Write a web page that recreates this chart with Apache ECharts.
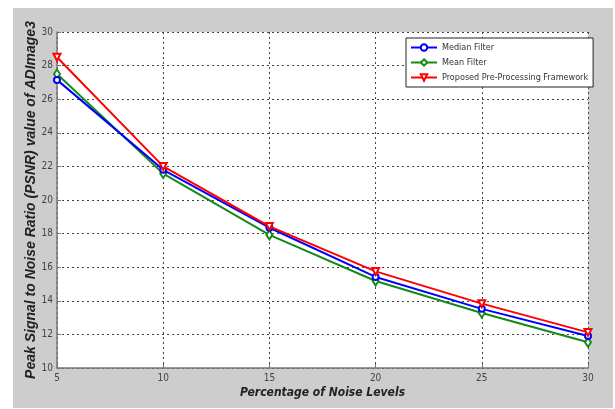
<!DOCTYPE html>
<html>
<head>
<meta charset="utf-8">
<script src="https://cdn.jsdelivr.net/npm/echarts@6/dist/echarts.min.js"></script>
<style>
html,body{margin:0;padding:0;background:#fff;}
#c{width:615px;height:409px;}
</style>
</head>
<body>
<div id="c"></div>
<script>
var noiseLevels = [5, 10, 15, 20, 25, 30];
var medianFilter = [27.15, 21.8, 18.35, 15.42, 13.52, 11.9];
var meanFilter = [27.5, 21.57, 17.92, 15.18, 13.27, 11.53];
var proposed = [28.5, 22.0, 18.43, 15.75, 13.83, 12.12];
var seriesNames = ['Median Filter', 'Mean Filter', 'Proposed Pre-Processing Framework'];
var xTitle = 'Percentage of Noise Levels';
var yTitle = 'Peak Signal to Noise Ratio (PSNR) value of ADImage3';

function pairs(vals){ return noiseLevels.map(function(x,i){ return [x, vals[i]]; }); }

var narrow = '"Liberation Sans Narrow", "DejaVu Sans Condensed", "Arial Narrow", sans-serif';
var chart = echarts.init(document.getElementById('c'), null, {renderer:'canvas'});
var option = {
  backgroundColor: '#ffffff',
  animation: false,
  graphic: [{
    type: 'rect', z: -10, silent: true,
    shape: {x: 13, y: 8, width: 600, height: 400},
    style: {fill: '#cdcdcd'}
  }],
  grid: {left: 57, right: 27, top: 32, bottom: 41, show: true, backgroundColor: '#ffffff', borderWidth: 0, containLabel: false},
  legend: {
    orient: 'vertical', left: 406, top: 38,
    backgroundColor: '#ffffff', borderColor: '#222', borderWidth: 1,
    padding: [5, 5, 5, 4], itemGap: 6, itemWidth: 26, itemHeight: 8,
    textStyle: {fontFamily: narrow, fontSize: 9, color: '#333'},
    data: seriesNames
  },
  xAxis: {
    type: 'value', min: 5, max: 30, interval: 5,
    name: xTitle, nameLocation: 'middle', nameGap: 19, nameMoveOverlap: false,
    nameTextStyle: {fontFamily: narrow, fontSize: 12, fontWeight: 'bold', fontStyle: 'italic', color: '#222'},
    axisLine: {show: true, onZero: false, lineStyle: {color: '#777', width: 1.5}},
    axisTick: {show: true, inside: true, length: 4, lineStyle: {color: '#777'}},
    axisLabel: {fontFamily: narrow, fontSize: 10, color: '#444', margin: 5},
    splitLine: {show: true, lineStyle: {color: '#444', type: [2, 3], width: 1}}
  },
  yAxis: {
    type: 'value', min: 10, max: 30, interval: 2,
    name: yTitle, nameLocation: 'middle', nameGap: 19, nameRotate: 90, nameMoveOverlap: false,
    nameTextStyle: {fontFamily: 'Liberation Sans, Arial, sans-serif', fontSize: 14, fontWeight: 'bold', fontStyle: 'italic', color: '#222'},
    axisLine: {show: true, onZero: false, lineStyle: {color: '#777', width: 1.5}},
    axisTick: {show: true, inside: true, length: 4, lineStyle: {color: '#777'}},
    axisLabel: {fontFamily: narrow, fontSize: 10, color: '#444', margin: 4},
    splitLine: {show: true, lineStyle: {color: '#444', type: [2, 3], width: 1}}
  },
  series: [
    {name: seriesNames[0], type: 'line', data: pairs(medianFilter), symbol: 'emptyCircle', symbolSize: 6,
     lineStyle: {color: '#0000ff', width: 2}, itemStyle: {color: '#0000ff', borderWidth: 1.5}, z: 3},
    {name: seriesNames[1], type: 'line', data: pairs(meanFilter), symbol: 'emptyDiamond', symbolSize: [6, 9],
     lineStyle: {color: '#138a13', width: 2}, itemStyle: {color: '#138a13', borderWidth: 1.5}, z: 2},
    {name: seriesNames[2], type: 'line', data: pairs(proposed), symbol: 'emptyTriangle', symbolRotate: 180, symbolSize: 7,
     lineStyle: {color: '#ff0000', width: 2}, itemStyle: {color: '#ff0000', borderWidth: 1.5}, z: 4}
  ]
};
chart.setOption(option);
</script>
</body>
</html>
